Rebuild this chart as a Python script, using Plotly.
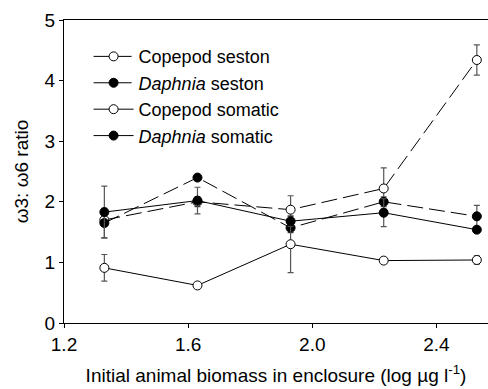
import plotly.graph_objects as go

x = [1.33, 1.63, 1.93, 2.23, 2.53]
cop_seston = [1.70, 2.00, 1.87, 2.22, 4.34]
cop_seston_err = [0.08, 0.08, 0.23, 0.34, 0.25]
daph_seston = [1.65, 2.40, 1.57, 2.00, 1.76]
daph_seston_err = [0.24, 0.04, 0.08, 0.08, 0.18]
cop_somatic = [0.91, 0.62, 1.30, 1.03, 1.04]
cop_somatic_err = [0.22, 0.02, 0.47, 0.03, 0.07]
daph_somatic = [1.83, 2.02, 1.68, 1.82, 1.54]
daph_somatic_err = [0.43, 0.22, 0.08, 0.23, 0.04]

x_ticks = [1.2, 1.6, 2.0, 2.4]
x_ticklabels = ["1.2", "1.6", "2.0", "2.4"]
y_ticks = [0, 1, 2, 3, 4, 5]

FONT = "Liberation Sans, Arial, sans-serif"

series = [
    ("Copepod seston", cop_seston, cop_seston_err, "white", "dash"),
    ("<i>Daphnia</i> seston", daph_seston, daph_seston_err, "black", "dash"),
    ("Copepod somatic", cop_somatic, cop_somatic_err, "white", "solid"),
    ("<i>Daphnia</i> somatic", daph_somatic, daph_somatic_err, "black", "solid"),
]

fig = go.Figure()
for name, y, err, fill, dash in series:
    fig.add_trace(go.Scatter(
        x=x, y=y, name=name, mode="lines+markers",
        line=dict(color="black", width=1, dash="16px,6px" if dash == "dash" else "solid"),
        marker=dict(symbol="circle", size=9, color=fill, line=dict(color="black", width=1)),
        error_y=dict(type="data", array=err, visible=True, color="#555555", thickness=1.2, width=3),
    ))

fig.update_layout(
    width=488, height=389,
    margin=dict(l=64, r=0, t=20, b=66),
    paper_bgcolor="white", plot_bgcolor="white",
    font=dict(family=FONT, size=19, color="black"),
    showlegend=True,
    legend=dict(x=0.058, y=0.94, xanchor="left", yanchor="top", itemwidth=40,
                bgcolor="rgba(0,0,0,0)", font=dict(size=18), tracegroupgap=0),
    xaxis=dict(range=[1.2, 2.566], tickvals=x_ticks, ticktext=x_ticklabels,
               showgrid=False, zeroline=False, showline=True, linecolor="black", linewidth=1,
               mirror=True, ticks="outside", ticklen=4, tickcolor="black",
               title=dict(text="Initial animal biomass in enclosure (log µg l<sup>-1</sup>)",
                          font=dict(size=19), standoff=14)),
    yaxis=dict(range=[0, 5], tickvals=y_ticks, showgrid=False, zeroline=False,
               showline=True, linecolor="black", linewidth=1, ticks="outside", ticklen=4,
               tickcolor="black", title=dict(text="ω3: ω6 ratio", font=dict(size=19), standoff=10)),
)

fig.write_html("out.html")
